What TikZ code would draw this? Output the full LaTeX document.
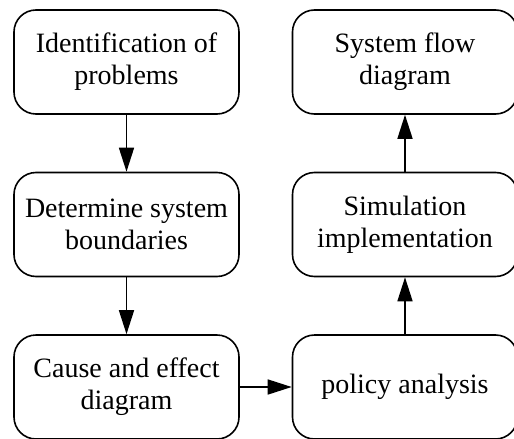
\documentclass[tikz,border=0pt]{standalone}
\usepackage{fontspec}
\setmainfont{Liberation Serif}
\usetikzlibrary{positioning, arrows.meta}

\begin{document}
\begin{tikzpicture}[
        x=1pt, y=1pt,
        node distance=162.5pt and 278.5pt,
        on grid,
        box/.style={draw, line width=1.6pt, rounded corners=22pt,
            minimum width=225pt, minimum height=104pt, align=center,
            font=\fontsize{28}{32}\selectfont},
        flow/.style={-{Triangle[length=24pt,width=15pt]}, line width=1.6pt}
        ]
            \useasboundingbox (0,0) rectangle (514,-439);
            \node[box] (PROB) at (126.5,-62) {Identification of\\problems};
            \node[box, below=of PROB] (BOUND) {Determine system\\boundaries};
            \node[box, below=of BOUND] (CAUSE) {Cause and effect\\diagram};
            \node[box, right=of CAUSE] (POLICY) {policy analysis};
            \node[box, above=of POLICY] (SIM) {Simulation\\implementation};
            \node[box, above=of SIM] (FLOW) {System flow\\diagram};

            \path[flow]
                (PROB) edge (BOUND)
                (BOUND) edge (CAUSE)
                (CAUSE) edge (POLICY)
                (POLICY) edge (SIM)
                (SIM) edge (FLOW);
        \end{tikzpicture}
\end{document}
